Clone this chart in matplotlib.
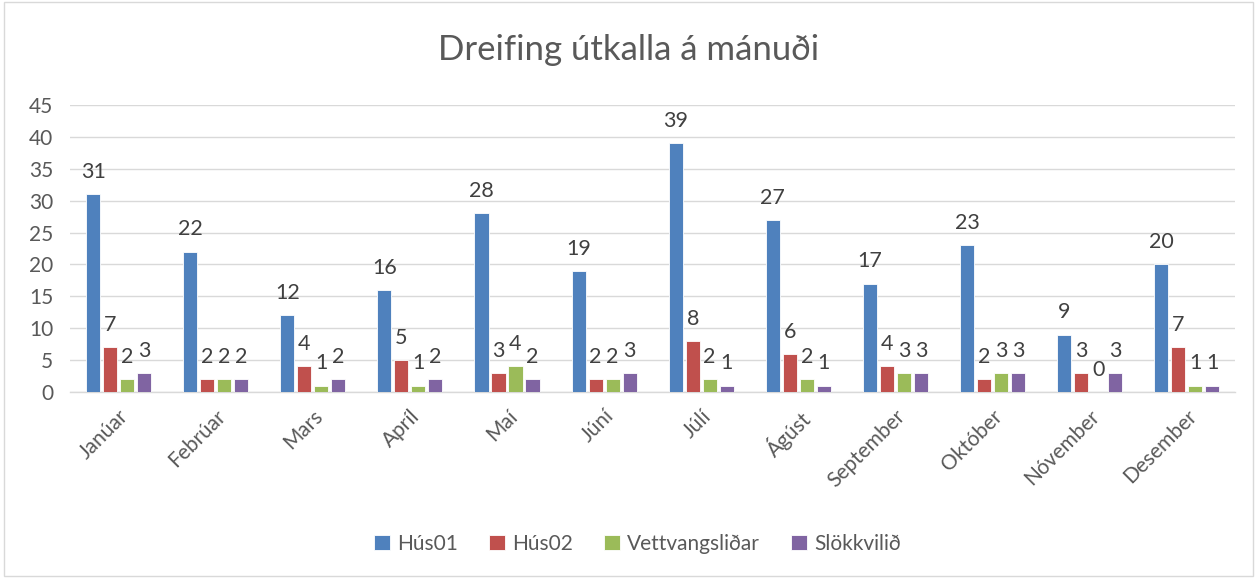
import numpy as np
import matplotlib.pyplot as plt
from matplotlib.patches import Rectangle

months = ["Janúar", "Febrúar", "Mars", "Apríl", "Maí", "Júní", "Júlí",
          "Ágúst", "September", "Október", "Nóvember", "Desember"]
hus01 = [31, 22, 12, 16, 28, 19, 39, 27, 17, 23, 9, 20]
hus02 = [7, 2, 4, 5, 3, 2, 8, 6, 4, 2, 3, 7]
vettvang = [2, 2, 1, 1, 4, 2, 2, 2, 3, 3, 0, 1]
slokkvilid = [3, 2, 2, 2, 2, 3, 1, 1, 3, 3, 3, 1]

series = [("Hús01", hus01, "#4f81bd"),
          ("Hús02", hus02, "#c0504d"),
          ("Vettvangsliðar", vettvang, "#9bbb59"),
          ("Slökkvilið", slokkvilid, "#8064a2")]

plt.rcParams["font.family"] = ["Lato", "DejaVu Sans"]
txt = "#595959"

fig = plt.figure(figsize=(12.57, 5.78), dpi=100)
ax = fig.add_axes([0.0557, 0.3218, 0.927, 0.4965])

x = np.arange(len(months))
step = 0.175
width = 0.145
for i, (name, vals, col) in enumerate(series):
    pos = x + (i - 1.5) * step
    ax.bar(pos, vals, width, color=col, edgecolor="white",
           linewidth=0.6, label=name, zorder=3)
    for xp, v in zip(pos, vals):
        ax.annotate(str(v), (xp, v), xytext=(0, 16), textcoords="offset points",
                    ha="center", va="center", fontsize=15.5, color="#404040")

ax.set_xlim(-0.5, len(months) - 0.5)
ax.set_ylim(0, 45)
ax.set_yticks(range(0, 46, 5))
ax.yaxis.grid(True, color="#d9d9d9", linewidth=1, zorder=0)
ax.set_axisbelow(True)
for s in ["top", "right", "left"]:
    ax.spines[s].set_visible(False)
ax.spines["bottom"].set_color("#d9d9d9")
ax.spines["bottom"].set_linewidth(1)
ax.tick_params(axis="both", length=0, colors=txt, labelsize=15)
ax.tick_params(axis="y", pad=12)
ax.set_xticks(x)
ax.set_xticklabels(months, rotation=45, ha="right", rotation_mode="anchor")
ax.tick_params(axis="x", pad=10)

fig.suptitle("Dreifing útkalla á mánuði", y=0.913, va="center",
             fontsize=25, color=txt)

fig.legend(loc="center", bbox_to_anchor=(0.507, 0.059), ncol=4, frameon=False,
           fontsize=15, labelcolor=txt, handlelength=0.75, handleheight=0.75,
           columnspacing=1.5, handletextpad=0.35)

fig.patches.append(Rectangle((0.003, 0.004), 0.994, 0.992, transform=fig.transFigure,
                             fill=False, edgecolor="#d9d9d9", linewidth=1))

fig.savefig("out.png", dpi=100)
